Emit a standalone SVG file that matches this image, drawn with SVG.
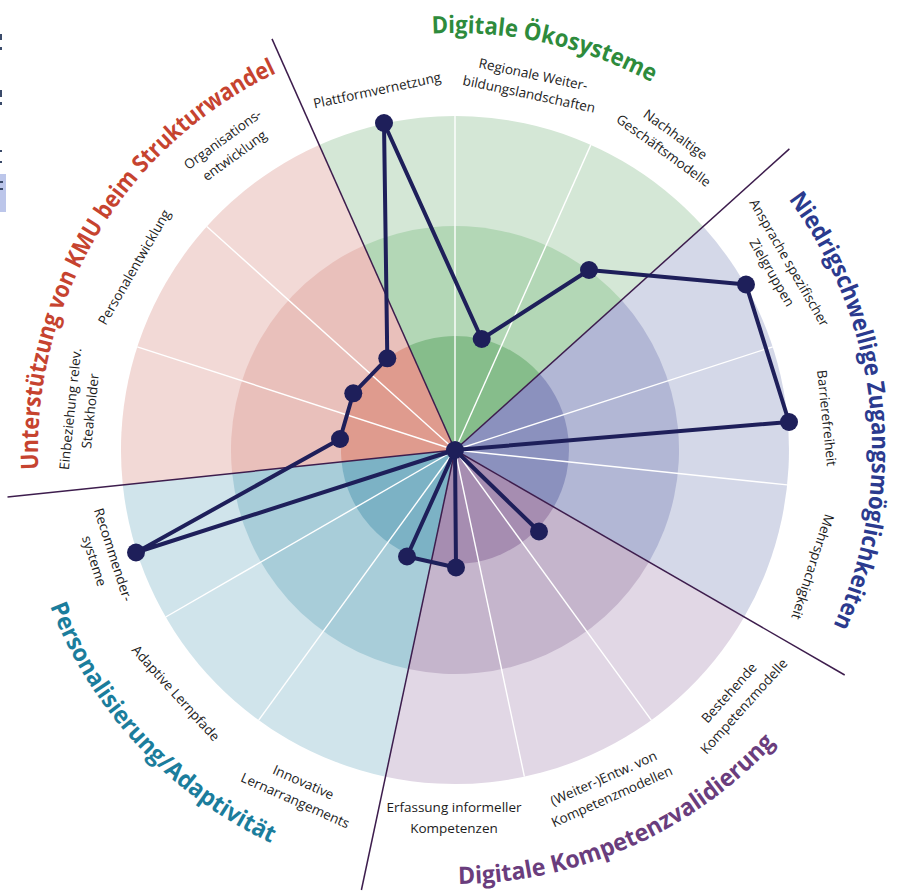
<svg xmlns="http://www.w3.org/2000/svg" width="901" height="893" viewBox="0 0 901 893">
<style>
.lbl{font-family:"Open Sans","Noto Sans","Liberation Sans",sans-serif;font-size:13.5px;fill:#1c1c1c;text-anchor:middle}
.ttl{font-family:"Open Sans","Noto Sans","Liberation Sans",sans-serif;font-size:24px;font-weight:700}
.sub{stroke:#ffffff;stroke-width:1.4;fill:none}
.div{stroke:#3d1d4d;stroke-width:1.5;fill:none}
.poly{stroke:#1e1f5a;stroke-width:4;fill:none;stroke-linejoin:round;stroke-linecap:round}
.dot{fill:#1e1f5a}
</style>
<defs>
<path id="arcOeko" d="M246.5,88.9 A417,417 0 0 1 796.6,210.8"/>
<path id="arcNied" d="M688.2,104.3 A417,417 0 0 1 755,739.7"/>
<path id="arcKomp" d="M264.7,840.1 A434,434 0 0 0 872.2,569.6"/>
<path id="arcPers" d="M24.2,397.1 A434,434 0 0 0 477.7,883.4"/>
<path id="arcKMU" d="M60.7,585.8 A417,417 0 0 1 389.8,38.1"/>
</defs>
<rect width="901" height="893" fill="#ffffff"/>
<g id="page-edge">
<rect x="0" y="174" width="6" height="38" fill="#bcc6ea"/>
<rect x="0" y="34" width="2" height="6" fill="#3a4a6a"/>
<rect x="0" y="47" width="2" height="3" fill="#3a4a6a"/>
<rect x="0" y="90" width="2" height="7" fill="#3a4a6a"/>
<rect x="0" y="102" width="2" height="3" fill="#3a4a6a"/>
<rect x="0" y="150" width="2" height="2" fill="#3a4a6a"/>
<rect x="0" y="161" width="2" height="2" fill="#3a4a6a"/>
<rect x="0" y="181" width="3" height="2" fill="#3a4a6a"/>
<rect x="0" y="188" width="3" height="2" fill="#3a4a6a"/>
</g>
<g id="sector-oekosysteme">
<path d="M455,450 L319.2,144.9 A334,334 0 0 1 703.2,226.5 Z" fill="#d4e7d6"/>
<path d="M455,450 L363.9,245.4 A224,224 0 0 1 621.5,300.1 Z" fill="#b3d7b6"/>
<path d="M455,450 L408.6,345.9 A114,114 0 0 1 539.7,373.7 Z" fill="#86bd8b"/>
</g>
<g id="sector-zugang">
<path d="M455,450 L703.2,226.5 A334,334 0 0 1 744.2,617 Z" fill="#d4d8e8"/>
<path d="M455,450 L621.5,300.1 A224,224 0 0 1 649,562 Z" fill="#b2b7d5"/>
<path d="M455,450 L539.7,373.7 A114,114 0 0 1 553.7,507 Z" fill="#8b91be"/>
</g>
<g id="sector-kompetenz">
<path d="M455,450 L744.2,617 A334,334 0 0 1 385.6,776.7 Z" fill="#e1d7e5"/>
<path d="M455,450 L649,562 A224,224 0 0 1 408.4,669.1 Z" fill="#c5b5cc"/>
<path d="M455,450 L553.7,507 A114,114 0 0 1 431.3,561.5 Z" fill="#a68db1"/>
</g>
<g id="sector-personalisierung">
<path d="M455,450 L385.6,776.7 A334,334 0 0 1 122.8,484.9 Z" fill="#d0e4eb"/>
<path d="M455,450 L408.4,669.1 A224,224 0 0 1 232.2,473.4 Z" fill="#a8cdd9"/>
<path d="M455,450 L431.3,561.5 A114,114 0 0 1 341.6,461.9 Z" fill="#7cb2c5"/>
</g>
<g id="sector-kmu">
<path d="M455,450 L122.8,484.9 A334,334 0 0 1 319.2,144.9 Z" fill="#f2d9d6"/>
<path d="M455,450 L232.2,473.4 A224,224 0 0 1 363.9,245.4 Z" fill="#e9c0bb"/>
<path d="M455,450 L341.6,461.9 A114,114 0 0 1 408.6,345.9 Z" fill="#df9b8e"/>
</g>
<g id="connectors">
<g id="axis-lines">
<path class="sub" d="M455,450 L455,116"/>
<path class="sub" d="M455,450 L590.8,144.9"/>
<path class="sub" d="M455,450 L772.7,346.8"/>
<path class="sub" d="M455,450 L787.2,484.9"/>
<path class="sub" d="M455,450 L651.3,720.2"/>
<path class="sub" d="M455,450 L524.4,776.7"/>
<path class="sub" d="M455,450 L258.7,720.2"/>
<path class="sub" d="M455,450 L165.7,617"/>
<path class="sub" d="M455,450 L137.3,346.8"/>
<path class="sub" d="M455,450 L206.8,226.5"/>
</g>
<g id="category-dividers">
<path class="div" d="M455,450 L272,38.9"/>
<path class="div" d="M455,450 L789.4,148.9"/>
<path class="div" d="M455,450 L844.7,675"/>
<path class="div" d="M455,450 L361.4,890"/>
<path class="div" d="M455,450 L7.5,497"/>
</g>
<path id="profile" class="poly" d="M384,123 L481.7,339 L589,270 L746,284.5 L789,422 L455,450 L539,531.5 L455,450 L456,567.5 L407,556.5 L455,450 L136,552.5 L340,439 L353.3,393.3 L387.3,358.3 Z"/>
</g>
<g id="points">
<circle class="dot" cx="455" cy="450" r="9"/>
<circle class="dot" cx="384" cy="123" r="9"/>
<circle class="dot" cx="481.7" cy="339" r="9"/>
<circle class="dot" cx="589" cy="270" r="9"/>
<circle class="dot" cx="746" cy="284.5" r="9"/>
<circle class="dot" cx="789" cy="422" r="9"/>
<circle class="dot" cx="539" cy="531.5" r="9"/>
<circle class="dot" cx="456" cy="567.5" r="9"/>
<circle class="dot" cx="407" cy="556.5" r="9"/>
<circle class="dot" cx="136" cy="552.5" r="9"/>
<circle class="dot" cx="340" cy="439" r="9"/>
<circle class="dot" cx="353.3" cy="393.3" r="9"/>
<circle class="dot" cx="387.3" cy="358.3" r="9"/>
</g>
<g id="label-plattform" transform="translate(377,90) rotate(-12)"><text class="lbl" y="5">Plattformvernetzung</text></g>
<g id="label-regional" transform="translate(531,85) rotate(12)"><text class="lbl" y="-6">Regionale Weiter-</text><text class="lbl" y="14">bildungslandschaften</text></g>
<g id="label-nachhaltig" transform="translate(669,143) rotate(36)"><text class="lbl" y="-6">Nachhaltige</text><text class="lbl" y="14">Geschäftsmodelle</text></g>
<g id="label-ansprache" transform="translate(780,268) rotate(60)"><text class="lbl" y="-6">Ansprache spezifischer</text><text class="lbl" y="14">Zielgruppen</text></g>
<g id="label-barriere" transform="translate(827,418) rotate(84)"><text class="lbl" y="5">Barrierefreiheit</text></g>
<g id="label-mehrsprachig" transform="translate(813,567) rotate(108)"><text class="lbl" y="5">Mehrsprachigkeit</text></g>
<g id="label-bestehend" transform="translate(737,700) rotate(-48)"><text class="lbl" y="-6">Bestehende</text><text class="lbl" y="14">Kompetenzmodelle</text></g>
<g id="label-weiterentw" transform="translate(608,788) rotate(-24)"><text class="lbl" y="-6">(Weiter-)Entw. von</text><text class="lbl" y="14">Kompetenzmodellen</text></g>
<g id="label-erfassung" transform="translate(454,818) rotate(0)"><text class="lbl" y="-6">Erfassung informeller</text><text class="lbl" y="15">Kompetenzen</text></g>
<g id="label-innovativ" transform="translate(299,792) rotate(24)"><text class="lbl" y="-6">Innovative</text><text class="lbl" y="14">Lernarrangements</text></g>
<g id="label-adaptiv" transform="translate(176,693) rotate(48)"><text class="lbl" y="5">Adaptive Lernpfade</text></g>
<g id="label-recommender" transform="translate(103,558) rotate(72)"><text class="lbl" y="-6">Recommender-</text><text class="lbl" y="14">systeme</text></g>
<g id="label-einbeziehung" transform="translate(81,410) rotate(-84)"><text class="lbl" y="-6">Einbeziehung relev.</text><text class="lbl" y="14">Steakholder</text></g>
<g id="label-personal" transform="translate(134,267) rotate(-60)"><text class="lbl" y="5">Personalentwicklung</text></g>
<g id="label-organisation" transform="translate(229,148) rotate(-36)"><text class="lbl" y="-6">Organisations-</text><text class="lbl" y="14">entwicklung</text></g>
<g id="title-oekosysteme"><text class="ttl" fill="#2e8b3c"><textPath href="#arcOeko" startOffset="50%" text-anchor="middle" textLength="228" lengthAdjust="spacingAndGlyphs">Digitale Ökosysteme</textPath></text></g>
<g id="title-zugang"><text class="ttl" fill="#2b3a8e"><textPath href="#arcNied" startOffset="50%" text-anchor="middle" textLength="450" lengthAdjust="spacingAndGlyphs">Niedrigschwellige Zugangsmöglichkeiten</textPath></text></g>
<g id="title-kompetenz"><text class="ttl" fill="#6a3d7d"><textPath href="#arcKomp" startOffset="50%" text-anchor="middle" textLength="357" lengthAdjust="spacingAndGlyphs">Digitale Kompetenzvalidierung</textPath></text></g>
<g id="title-personalisierung"><text class="ttl" fill="#1b7d9c"><textPath href="#arcPers" startOffset="50%" text-anchor="middle" textLength="332" lengthAdjust="spacingAndGlyphs">Personalisierung/Adaptivität</textPath></text></g>
<g id="title-kmu"><text class="ttl" fill="#c6432f"><textPath href="#arcKMU" startOffset="50%" text-anchor="middle" textLength="490" lengthAdjust="spacingAndGlyphs">Unterstützung von KMU beim Strukturwandel</textPath></text></g>
</svg>
